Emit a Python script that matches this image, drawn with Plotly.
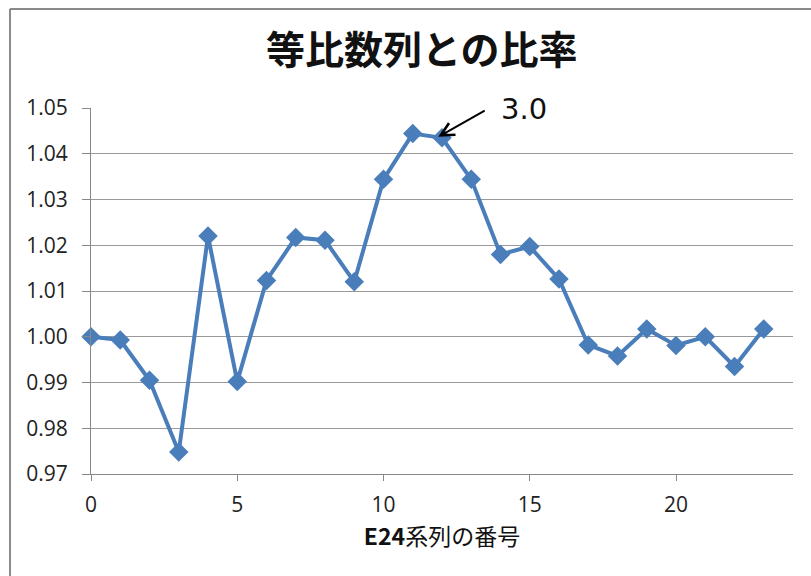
import plotly.graph_objects as go

index = list(range(24))
ratio = [1.0000, 0.9993, 0.9905, 0.9748, 1.0220, 0.9902, 1.0123, 1.0217, 1.0211, 1.0120,
         1.0344, 1.0444, 1.0435, 1.0344, 1.0180, 1.0197, 1.0126, 0.9982, 0.9958, 1.0017,
         0.9981, 1.0000, 0.9935, 1.0017]
y_ticks = [0.97, 0.98, 0.99, 1.00, 1.01, 1.02, 1.03, 1.04, 1.05]
y_tick_labels = ["0.97", "0.98", "0.99", "1.00", "1.01", "1.02", "1.03", "1.04", "1.05"]
x_ticks = [0, 5, 10, 15, 20]
title_text = "等比数列との比率"
x_title = "<b>E24</b>系列の番号"
note_text = "3.0"
note_x = 11.87
note_y = 1.0437

blue = "#4a7ebb"

fig = go.Figure()
fig.add_trace(go.Scatter(
    x=index, y=ratio, mode="lines+markers",
    line=dict(color=blue, width=4),
    marker=dict(symbol="diamond", size=15, color=blue),
    showlegend=False, cliponaxis=False,
))

fig.update_layout(
    width=811, height=576,
    margin=dict(l=91, r=18, t=108, b=102),
    paper_bgcolor="white", plot_bgcolor="white",
    font=dict(family="Open Sans", size=19, color="#262626"),
    title=dict(text=title_text, x=0.52, xanchor="center", y=0.913, yanchor="middle",
               font=dict(family="Noto Sans CJK JP", size=39, color="#111111", weight="bold")),
    xaxis=dict(range=[0, 24], tickvals=x_ticks, ticks="outside", ticklen=6, tickcolor="#888888",
               showgrid=False, showline=True, linecolor="#888888", linewidth=1,
               zeroline=False, ticklabelstandoff=6,
               tickfont=dict(family="Open Sans", size=21, color="#222222"),
               title=dict(text=x_title, standoff=8,
                          font=dict(family="Noto Sans CJK JP", size=23, color="#111111"))),
    yaxis=dict(range=[0.97, 1.05], tickvals=y_ticks, ticktext=y_tick_labels,
               ticks="outside", ticklen=8, tickcolor="#888888",
               showgrid=True, gridcolor="#999999", gridwidth=1,
               showline=True, linecolor="#888888", linewidth=1,
               zeroline=False, ticklabelstandoff=10,
               tickfont=dict(family="Open Sans", size=21, color="#222222")),
)

# arrow annotation
fig.add_annotation(x=note_x, y=note_y, text="", showarrow=True, arrowhead=5, arrowsize=1.3,
                   arrowwidth=2, arrowcolor="#000000", ax=48, ay=-27, standoff=0)
fig.add_annotation(x=note_x, y=note_y, text=note_text, showarrow=False,
                   xshift=86, yshift=28,
                   font=dict(family="DejaVu Sans", size=29, color="#111111"))

# chart-area frame (top and left edges visible)
frame = dict(color="#8a8a8a", width=2)
fig.add_shape(type="line", xref="paper", yref="paper", x0=-0.1154, x1=1.2, y0=1.2705, y1=1.2705, line=frame)
fig.add_shape(type="line", xref="paper", yref="paper", x0=-0.1154, x1=-0.1154, y0=-0.5, y1=1.2705, line=frame)

fig.write_html("out.html")
